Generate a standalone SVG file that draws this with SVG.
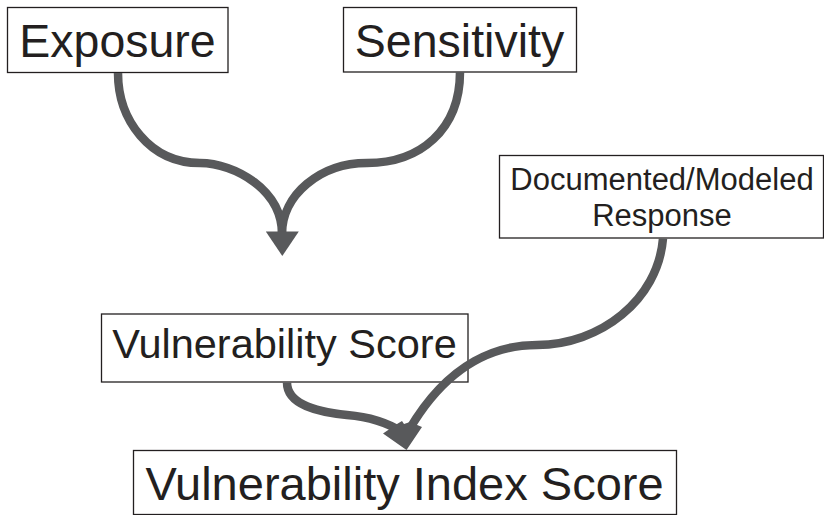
<svg xmlns="http://www.w3.org/2000/svg" width="824" height="515" viewBox="0 0 824 515">
  <style>
    .box { fill: #ffffff; stroke: #231f20; stroke-width: 1.3; }
    .label { font-family: "Liberation Sans", Arial, sans-serif; fill: #231f20; text-anchor: middle; }
    .flow { fill: none; stroke: #58595b; stroke-width: 8.5; stroke-linecap: butt; }
    .head { fill: #58595b; stroke: none; }
  </style>
  <defs>
    <!-- arrowhead, tip at the origin, pointing down -->
    <polygon id="tip" class="head" points="-16.5,-24.5 16.5,-24.5 0,0"/>
  </defs>

  <rect width="824" height="515" fill="#ffffff"/>

  <g id="exposure">
    <rect class="box" x="7.5" y="7.5" width="220.5" height="65"/>
    <text class="label" x="117.5" y="57" font-size="46.5">Exposure</text>
  </g>

  <g id="sensitivity">
    <rect class="box" x="343.5" y="7.5" width="233" height="64.5"/>
    <text class="label" x="459.5" y="57" font-size="46.5">Sensitivity</text>
  </g>

  <g id="response">
    <rect class="box" x="499.5" y="155.5" width="324" height="82.5"/>
    <text class="label" x="662" y="190" font-size="31">Documented/Modeled</text>
    <text class="label" x="662" y="225.5" font-size="31">Response</text>
  </g>

  <g id="vulnerability-score">
    <rect class="box" x="101.5" y="314" width="366.5" height="68"/>
    <text class="label" x="284.5" y="358" font-size="41.5">Vulnerability Score</text>
  </g>

  <g id="vulnerability-index-score">
    <rect class="box" x="133.5" y="450.5" width="543" height="64"/>
    <text class="label" x="404.5" y="499.5" font-size="47">Vulnerability Index Score</text>
  </g>

  <g id="connectors">
    <!-- Exposure and Sensitivity merge into one arrow -->
    <path class="flow" d="M118,73 C118,120 150,163 200,163 C235,163 282,190 282,234"/>
    <path class="flow" d="M460,72 C460,130 420,163 367,163 C320,163 282,195 282,234"/>
    <use href="#tip" transform="translate(282.3,256)"/>

    <!-- Vulnerability Score and Documented/Modeled Response feed the index -->
    <path class="flow" d="M287,382.5 C287,405 318,412 347,415 C370,417 388,423 402,432"/>
    <path class="flow" d="M663,238.5 C658,300 600,345 537,345 C500,345 450,360 409,430"/>
    <polygon class="head" points="383,433.5 397,424 402,421 404,424 410,422 422,427 406.5,450"/>
  </g>
</svg>
